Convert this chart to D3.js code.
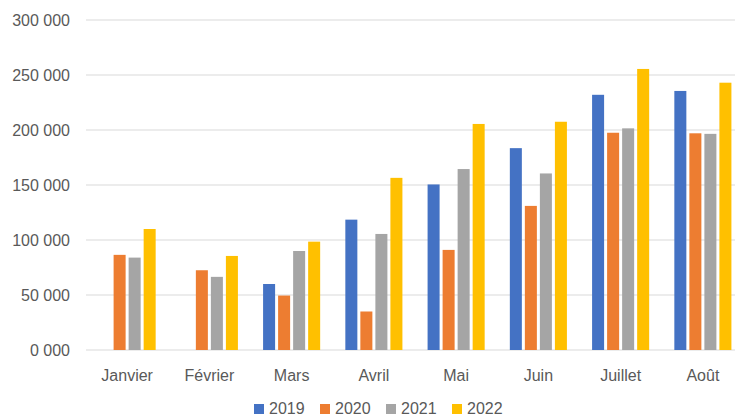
<!DOCTYPE html>
<meta charset="utf-8">
<style>
    body { margin: 0; background: #fff; }
    text {
        font-family: "Liberation Sans", "DejaVu Sans", sans-serif;
        fill: #595959;
        font-size: 16px;
    }
</style>

<svg width="735" height="418"></svg>

<script src="https://d3js.org/d3.v7.min.js"></script>

<script>

    // data
    var months = ["Janvier", "Février", "Mars", "Avril", "Mai", "Juin", "Juillet", "Août"];
    var years = ["2019", "2020", "2021", "2022"];
    var colors = ["#4472C4", "#ED7D31", "#A5A5A5", "#FFC000"];

    var v2019 = [null, null, 60000, 118500, 150500, 183500, 232000, 235500];
    var v2020 = [86500, 72500, 49500, 35000, 91000, 131000, 197500, 197000];
    var v2021 = [84000, 66500, 90000, 105500, 164500, 160500, 201500, 196500];
    var v2022 = [110000, 85500, 98500, 156500, 205500, 207500, 255500, 243000];
    var series = [v2019, v2020, v2021, v2022];

    var yTicks = [0, 50000, 100000, 150000, 200000, 250000, 300000];

    var svg = d3.select("svg");

    var plotLeft = 86, plotRight = 744, plotTop = 20, plotBottom = 350;

    var x0 = d3.scaleBand()
            .domain(months)
            .range([plotLeft, plotRight])
            .paddingInner(0.306)
            .paddingOuter(0.153);

    var x1 = d3.scaleBand()
            .domain(years)
            .range([0, x0.bandwidth()])
            .paddingInner(0.2);

    var y = d3.scaleLinear()
            .domain([0, 300000])
            .range([plotBottom, plotTop]);

    // "300 000", "0 000" like the original
    function fmt(d) {
        return Math.floor(d / 1000) + " " + d3.format("03d")(d % 1000);
    }

    // gridlines
    svg.append("g")
            .selectAll("line")
            .data(yTicks)
            .enter().append("line")
            .attr("x1", plotLeft)
            .attr("x2", plotRight)
            .attr("y1", function (d) { return y(d); })
            .attr("y2", function (d) { return y(d); })
            .attr("stroke", "#d9d9d9")
            .attr("stroke-width", 1.2);

    // y labels
    svg.append("g")
            .selectAll("text")
            .data(yTicks)
            .enter().append("text")
            .attr("x", 70)
            .attr("y", function (d) { return y(d) + 5.5; })
            .attr("text-anchor", "end")
            .text(fmt);

    // bars
    var groups = svg.append("g")
            .selectAll("g")
            .data(months)
            .enter().append("g")
            .attr("transform", function (m) { return "translate(" + x0(m) + ",0)"; });

    groups.selectAll("rect")
            .data(function (m, i) {
                return years.map(function (yr, k) {
                    return {year: yr, k: k, value: series[k][i]};
                }).filter(function (d) { return d.value != null; });
            })
            .enter().append("rect")
            .attr("x", function (d) { return x1(d.year); })
            .attr("width", x1.bandwidth())
            .attr("y", function (d) { return y(d.value); })
            .attr("height", function (d) { return y(0) - y(d.value); })
            .attr("fill", function (d) { return colors[d.k]; });

    // x labels
    svg.append("g")
            .selectAll("text")
            .data(months)
            .enter().append("text")
            .attr("x", function (m) { return x0(m) + x0.bandwidth() / 2; })
            .attr("y", 381)
            .attr("text-anchor", "middle")
            .text(function (m) { return m; });

    // legend
    var legend = svg.append("g")
            .selectAll("g")
            .data(years)
            .enter().append("g")
            .attr("transform", function (d, i) { return "translate(" + (254 + i * 66) + ",404)"; });

    legend.append("rect")
            .attr("width", 10)
            .attr("height", 10)
            .attr("fill", function (d, i) { return colors[i]; });

    legend.append("text")
            .attr("x", 15)
            .attr("y", 10)
            .text(function (d) { return d; });

</script>
